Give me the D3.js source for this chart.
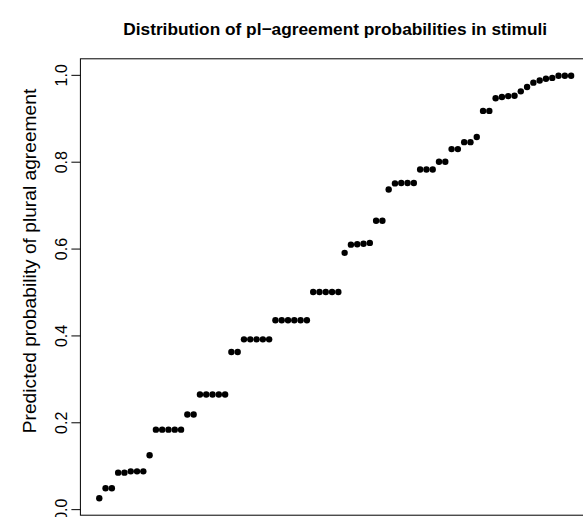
<!DOCTYPE html>
<html>
<head>
<meta charset="utf-8">
<script src="https://cdn.jsdelivr.net/npm/d3@7"></script>
<style>
  html, body { margin: 0; padding: 0; background: #fff; }
  svg { display: block; }
  text { font-family: "Liberation Sans", Arial, Helvetica, sans-serif; }
</style>
</head>
<body>
<script>
// Sorted predicted probabilities of plural agreement
const probabilities = [
  0.025, 0.048, 0.048, 0.084, 0.084, 0.087, 0.087, 0.087, 0.124,
  0.183, 0.183, 0.183, 0.183, 0.183, 0.218, 0.218,
  0.264, 0.264, 0.264, 0.264, 0.264, 0.362, 0.362,
  0.391, 0.391, 0.391, 0.391, 0.391,
  0.435, 0.435, 0.435, 0.435, 0.435, 0.435,
  0.500, 0.500, 0.500, 0.500, 0.500,
  0.590, 0.609, 0.610, 0.611, 0.613, 0.664, 0.664,
  0.736, 0.750, 0.751, 0.751, 0.751, 0.782, 0.782, 0.782,
  0.800, 0.800, 0.829, 0.829, 0.845, 0.845, 0.857,
  0.917, 0.917, 0.946, 0.949, 0.951, 0.952,
  0.962, 0.972, 0.982, 0.987, 0.991, 0.993, 0.998, 0.998, 0.998
];
const indices = probabilities.map((d, i) => i + 1);
const yTicks = [0.0, 0.2, 0.4, 0.6, 0.8, 1.0];
const titleText = "Distribution of pl\u2212agreement probabilities in stimuli";
const yLabelText = "Predicted probability of plural agreement";

const W = 583, H = 517;
const plot = { left: 80.4, right: 590, top: 58.8, bottom: 515.2 };

const svg = d3.select("body").append("svg").attr("width", W).attr("height", H);

// R-style 4% axis expansion
const xr = d3.extent(indices), yr = d3.extent(probabilities);
const xPad = (xr[1] - xr[0]) * 0.04, yPad = (yr[1] - yr[0]) * 0.04;
const x = d3.scaleLinear().domain([xr[0] - xPad, xr[1] + xPad]).range([plot.left, plot.right]);
const y = d3.scaleLinear().domain([yr[0] - yPad, yr[1] + yPad]).range([plot.bottom, plot.top]);

// points
svg.append("g").selectAll("circle").data(probabilities).join("circle")
  .attr("cx", (d, i) => x(indices[i]))
  .attr("cy", d => y(d))
  .attr("r", 3.2)
  .attr("fill", "#000");

// box
svg.append("rect")
  .attr("x", plot.left).attr("y", plot.top)
  .attr("width", plot.right - plot.left).attr("height", plot.bottom - plot.top)
  .attr("fill", "none").attr("stroke", "#000").attr("stroke-width", 1);

// y axis
const yAxis = d3.axisLeft(y).tickValues(yTicks).tickFormat(d3.format(".1f"))
  .tickSize(9).tickPadding(0);
const gy = svg.append("g").attr("transform", `translate(${plot.left},0)`).call(yAxis);
gy.select(".domain").remove();
gy.selectAll(".tick line").attr("stroke", "#000");
gy.selectAll(".tick text")
  .attr("x", 0).attr("dy", null)
  .attr("transform", "translate(-13.5,0) rotate(-90)")
  .attr("text-anchor", "middle")
  .attr("font-size", 16)
  .attr("font-family", "'Liberation Sans', Arial, sans-serif")
  .attr("fill", "#000")
  .attr("y", 0);

// y label
svg.append("text")
  .attr("transform", `translate(36,261) rotate(-90)`)
  .attr("text-anchor", "middle")
  .attr("font-size", 19.2)
  .attr("fill", "#000")
  .text(yLabelText);

// title
svg.append("text")
  .attr("x", (plot.left + plot.right) / 2)
  .attr("y", 35)
  .attr("text-anchor", "middle")
  .attr("font-size", 17.3)
  .attr("font-weight", "bold")
  .attr("fill", "#000")
  .text(titleText);
</script>
</body>
</html>
